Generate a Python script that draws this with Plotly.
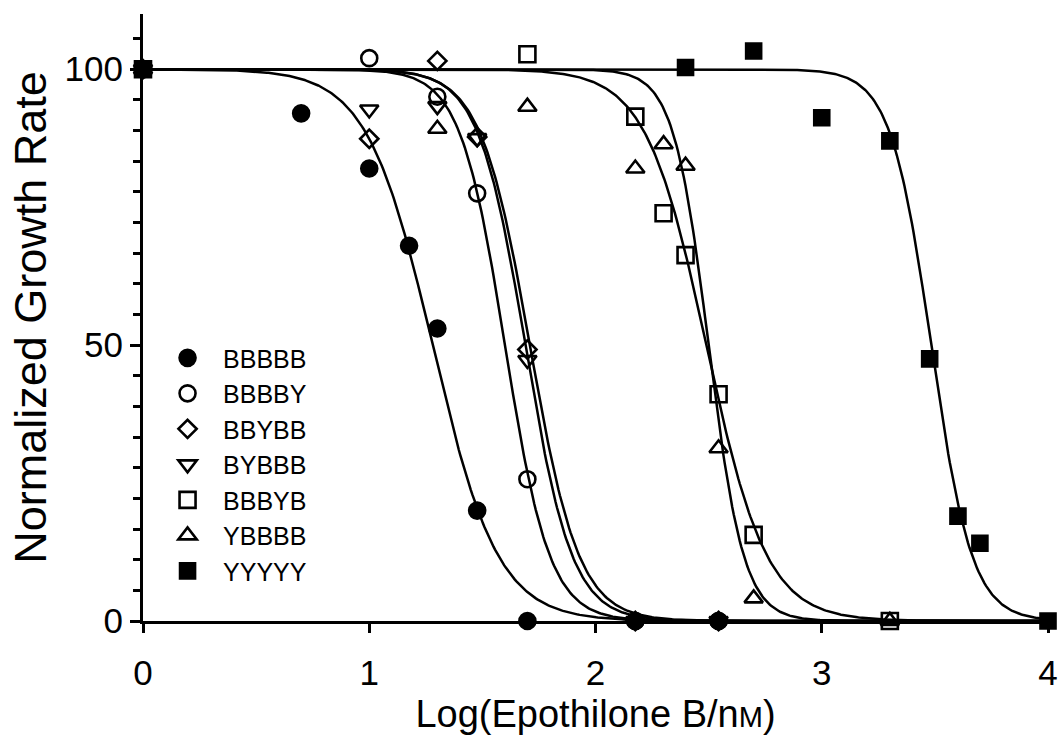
import numpy as np
import plotly.graph_objects as go

# ---- data ----
series_names = ["BBBBB", "BBBBY", "BBYBB", "BYBBB", "BBBYB", "YBBBB", "YYYYY"]

x_BBBBB = [0, 0.699, 1.0, 1.176, 1.301, 1.477, 1.699, 2.176, 2.544]
y_BBBBB = [100, 92, 82, 68, 53, 20, 0, 0, 0]

x_BBBBY = [0, 1.0, 1.301, 1.477, 1.699, 2.176, 2.544]
y_BBBBY = [100, 102, 95, 77.5, 25.7, 0, 0]

x_BBYBB = [0, 1.0, 1.301, 1.477, 1.699, 2.176, 2.544]
y_BBYBB = [100, 87.4, 101.5, 87.7, 49.2, 0, 0]

x_BYBBB = [0, 1.0, 1.301, 1.477, 1.699, 2.176, 2.544]
y_BYBBB = [100, 92.7, 93.3, 87.5, 47.3, 0, 0]

x_BBBYB = [0, 1.699, 2.176, 2.301, 2.398, 2.544, 2.699, 3.301]
y_BBBYB = [100, 102.7, 91.4, 73.9, 66.3, 41.1, 15.6, 0]

x_YBBBB = [0, 1.301, 1.699, 2.176, 2.301, 2.398, 2.544, 2.699, 3.301]
y_YBBBB = [100, 89.2, 93.2, 82.0, 86.4, 82.5, 31.3, 4.1, 0]

x_YYYYY = [0, 2.398, 2.699, 3.0, 3.301, 3.477, 3.602, 3.699, 4.0]
y_YYYYY = [100, 100.3, 103.3, 91.2, 87.0, 47.5, 19.0, 14.1, 0]

# fitted curve parameters (log IC50, Hill slope)
log_ic50 = [1.28, 1.60, 1.71, 1.69, 2.49, 2.50, 3.484]
hill = [3.0, 4.4, 4.0, 4.2, 3.25, 5.6, 4.82]

x_ticks = [0, 1, 2, 3, 4]
y_ticks = [0, 50, 100]

xs = [x_BBBBB, x_BBBBY, x_BBYBB, x_BYBBB, x_BBBYB, x_YBBBB, x_YYYYY]
ys = [y_BBBBB, y_BBBBY, y_BBYBB, y_BYBBB, y_BBBYB, y_YBBBB, y_YYYYY]

symbols = ["circle", "circle-open", "diamond-open", "triangle-down-open",
           "square-open", "triangle-up-open", "square"]
sizes = [16, 16, 14, 16, 16, 16, 15]

fig = go.Figure()

xc = np.linspace(0, 4, 600)
for c, h in zip(log_ic50, hill):
    yc = 100.0 / (1.0 + 10 ** ((xc - c) * h))
    fig.add_trace(go.Scatter(x=xc, y=yc, mode="lines",
                             line=dict(color="black", width=2.5),
                             showlegend=False, hoverinfo="skip"))

for name, x, y, sym, sz in zip(series_names, xs, ys, symbols, sizes):
    fig.add_trace(go.Scatter(x=x, y=y, mode="markers", name=name,
                             cliponaxis=False,
                             marker=dict(symbol=sym, size=sz, color="black",
                                         line=dict(color="black", width=2.6))))

font_family = "Liberation Sans, Arial, sans-serif"

fig.update_layout(
    width=1062, height=739,
    margin=dict(l=143, r=14, t=14, b=118, autoexpand=False),
    plot_bgcolor="white", paper_bgcolor="white",
    font=dict(family=font_family, color="black"),
    showlegend=True,
    legend=dict(x=0.01, y=0.471, xanchor="left", yanchor="top",
                font=dict(size=25, family=font_family, color="black"),
                bgcolor="rgba(0,0,0,0)", itemwidth=61, tracegroupgap=0),
    xaxis=dict(range=[0, 4], tickvals=x_ticks, ticktext=[str(v) for v in x_ticks],
               showgrid=False, zeroline=False, showline=True, linecolor="black",
               linewidth=3, ticks="outside", ticklen=9, tickwidth=3, tickcolor="black",
               tickfont=dict(size=35), ticklabelstandoff=10,
               layer="below traces", automargin=False,
               title=dict(text="Log(Epothilone B/n<span style='font-size:29px'>M</span>)",
                          font=dict(size=38), standoff=10)),
    yaxis=dict(range=[0, 110], tickvals=y_ticks, ticktext=[str(v) for v in y_ticks],
               showgrid=False, zeroline=False, showline=True, linecolor="black",
               linewidth=3, ticks="outside", ticklen=10, tickwidth=3, tickcolor="black",
               tickfont=dict(size=35), layer="below traces", automargin=False,
               minor=dict(tick0=0, dtick=50 / 9, ticks="outside", ticklen=7,
                          tickwidth=3, tickcolor="black", showgrid=False),
               title=dict(text="Normalized Growth Rate", font=dict(size=45), standoff=4)),
)

fig.write_html(
    "out.html",
    config={"displayModeBar": False},
    post_script="document.body.style.margin='0';document.body.style.overflow='hidden';",
)
